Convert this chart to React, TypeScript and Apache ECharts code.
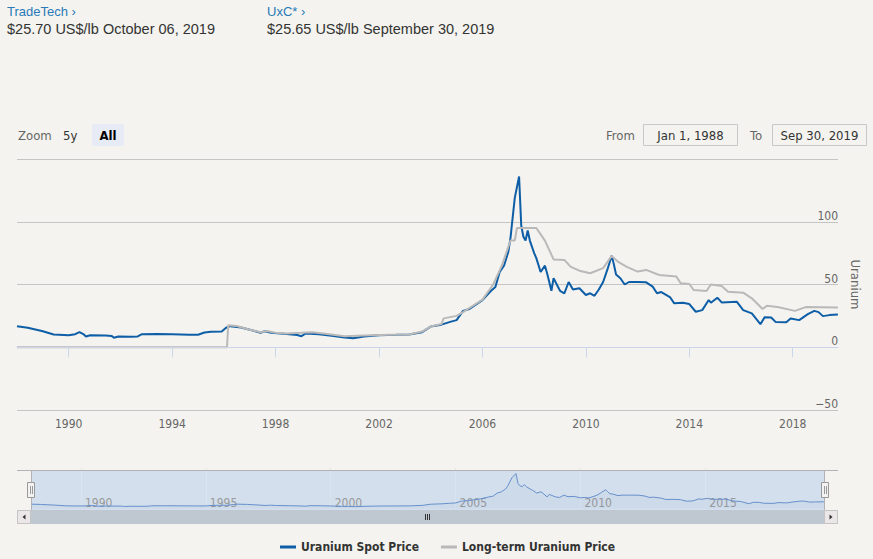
import React, { useEffect, useRef } from "react";
import * as echarts from "echarts";

const spotDates = [
  "1988-01", "1988-06", "1989-01", "1989-06", "1990-01", "1990-04", "1990-06", "1990-08", "1990-09", "1990-11",
  "1991-06", "1991-09", "1991-10", "1991-12", "1992-06", "1992-09", "1992-11", "1993-06", "1994-01", "1994-09",
  "1995-01", "1995-04", "1995-07", "1995-12", "1996-02", "1996-04", "1996-09", "1997-02", "1997-06", "1997-08",
  "1997-11", "1998-06", "1998-11", "1999-01", "1999-03", "1999-09", "2000-03", "2000-09", "2001-01", "2001-06",
  "2002-01", "2002-09", "2003-03", "2003-09", "2004-01", "2004-06", "2004-10", "2005-01", "2005-04", "2005-07",
  "2006-01", "2006-05", "2006-07", "2006-09", "2006-11", "2007-01", "2007-02", "2007-04", "2007-06", "2007-07",
  "2007-08", "2007-09", "2007-10", "2007-11", "2008-01", "2008-02", "2008-04", "2008-06", "2008-07", "2008-09",
  "2008-10", "2009-01", "2009-03", "2009-05", "2009-07", "2009-10", "2010-01", "2010-03", "2010-05", "2010-07",
  "2010-09", "2010-11", "2011-01", "2011-02", "2011-03", "2011-05", "2011-07", "2011-09", "2012-01", "2012-05",
  "2012-08", "2012-10", "2012-12", "2013-04", "2013-06", "2013-10", "2014-01", "2014-04", "2014-07", "2014-10",
  "2014-11", "2015-02", "2015-04", "2015-11", "2016-02", "2016-06", "2016-10", "2016-12", "2017-03", "2017-05",
  "2017-10", "2017-12", "2018-04", "2018-08", "2018-11", "2019-01", "2019-03", "2019-06", "2019-09-30",
];
const spotValues = [
  16.8, 15.6, 12.8, 10.2, 9.6, 10.4, 12.0, 10.2, 8.6, 9.6,
  9.3, 8.9, 7.6, 8.6, 8.4, 8.6, 10.4, 10.5, 10.3, 9.9,
  10.0, 11.8, 12.3, 12.6, 15.5, 16.8, 15.8, 13.5, 11.6, 12.8,
  11.5, 10.6, 9.8, 8.8, 11.0, 10.4, 9.2, 7.8, 7.2, 8.6,
  9.6, 9.9, 10.2, 12.0, 16.5, 18.0, 20.2, 21.6, 29.0, 30.5,
  37.6, 45, 48, 60, 65, 76, 87, 119, 136, 97,
  88, 85, 93, 85, 75, 71, 60, 65, 59, 45,
  55, 45, 43, 52, 46, 47, 41.6, 43, 41, 46,
  52, 62, 73, 66, 58, 55, 50, 52, 52, 51.7,
  48.3, 43, 44, 40, 35, 35.5, 34.4, 28.3, 29.6, 37.6,
  35.5, 39.5, 35.7, 36.3, 29.6, 27, 18.4, 24, 23.7, 20.2,
  20, 22.9, 21.6, 26.4, 29, 28, 24.8, 25.6, 26,
];

const ltDates = [
  "1988-01", "1996-02-15", "1996-03", "1996-07", "1997-01", "1997-06", "1997-09", "1998-01", "1998-06", "1999-01",
  "1999-06", "2000-01", "2000-09", "2001-06", "2002-06", "2003-03", "2003-09", "2004-01", "2004-06", "2004-07",
  "2005-01", "2005-04", "2006-01", "2006-06", "2006-10", "2007-01", "2007-02", "2007-04", "2007-05", "2008-02",
  "2008-06", "2008-10", "2009-03", "2009-06", "2009-10", "2010-03", "2010-09", "2011-01", "2011-04", "2011-08",
  "2012-01", "2012-05", "2012-11", "2013-07", "2013-09", "2014-01", "2014-03", "2014-09", "2014-11", "2015-04",
  "2015-07", "2016-02", "2016-06", "2016-11", "2017-01", "2017-06", "2018-02", "2018-07", "2019-09-30",
];
const ltValues = [
  0, 0, 17.6, 17.0, 14, 12, 13, 11.5, 11, 11.5,
  12.0, 10.5, 8.8, 9.4, 10, 10.2, 12.5, 16.5, 18.5, 23,
  25, 28, 38, 50, 65, 80, 85, 85, 95, 95,
  85, 70, 69.6, 64, 61, 59, 63, 72.8, 68, 64,
  60.3, 61.6, 57.6, 56.3, 51, 50.4, 45.6, 44.8, 50, 48.8,
  44.3, 43.5, 39, 30.5, 33, 32, 29, 32, 31.7,
];

const mainYearTicks = [1990, 1994, 1998, 2002, 2006, 2010, 2014, 2018];
const navYearTicks = [1990, 1995, 2000, 2005, 2010, 2015];
const legendNames = ["Uranium Spot Price", "Long-term Uranium Price"];

function toYear(s: string): number {
  const p = s.split("-").map(Number);
  const y = p[0];
  const m = p[1] || 1;
  const d = p[2] || 1;
  return y + (m - 1) / 12 + (d - 1) / 365;
}

const NARROW = "'Liberation Sans Narrow', 'DejaVu Sans Condensed', sans-serif";
const SANS = "'Liberation Sans', Arial, sans-serif";

export default function App() {
  const ref = useRef<HTMLDivElement>(null);
  useEffect(() => {
    document.body.style.margin = "0";
    if (!ref.current) return;
    const chart = echarts.init(ref.current, undefined, { renderer: "svg" });
    const spot = spotDates.map((d, i) => [toYear(d), spotValues[i]]);
    const lt = ltDates.map((d, i) => [toYear(d), ltValues[i]]);

    const txt = (x: number, y: number, text: string, opts: any = {}) => ({
      type: "text",
      x,
      y,
      z: 20,
      style: {
        text,
        fill: opts.fill || "#333",
        fontSize: opts.fontSize || 13,
        fontFamily: opts.fontFamily || NARROW,
        fontWeight: opts.fontWeight || "normal",
        textAlign: opts.align || "left",
        textVerticalAlign: "middle",
      },
    });

    const option: any = {
      animation: false,
      backgroundColor: "#f4f3ef",
      textStyle: { fontFamily: NARROW },
      grid: [
        { left: 17, right: 35, top: 159, bottom: 149 },
        { left: 31, right: 49, top: 470, height: 40 },
      ],
      xAxis: [
        {
          type: "value",
          gridIndex: 0,
          min: 1988,
          max: 2019.75,
          z: 5,
          axisLine: { show: true, lineStyle: { color: "#ccd6eb", width: 1 } },
          axisTick: { show: true, length: 10, customValues: mainYearTicks, lineStyle: { color: "#ccd6eb" } },
          axisLabel: {
            customValues: mainYearTicks,
            color: "#666",
            fontSize: 12,
            margin: 8,
            formatter: (v: number) => String(Math.round(v)),
          },
          splitLine: { show: false },
        },
        {
          type: "value",
          gridIndex: 1,
          min: 1988,
          max: 2019.75,
          z: 3,
          axisLine: { show: false },
          axisTick: {
            show: true,
            inside: true,
            length: 40,
            customValues: navYearTicks,
            lineStyle: { color: "#dae4ef" },
          },
          axisLabel: {
            customValues: navYearTicks,
            inside: true,
            align: "left",
            color: "#999",
            fontSize: 12,
            margin: 1,
            padding: [0, 0, 0, 4],
            formatter: (v: number) => String(Math.round(v)),
          },
          splitLine: { show: false },
        },
      ],
      yAxis: [
        {
          type: "value",
          gridIndex: 0,
          position: "right",
          min: -50,
          max: 150,
          interval: 50,
          name: "Uranium",
          nameLocation: "middle",
          nameRotate: -90,
          nameGap: 10,
          nameTextStyle: { color: "#666", fontSize: 13 },
          axisLine: { show: false },
          axisTick: { show: false },
          axisLabel: {
            inside: true,
            margin: 0,
            verticalAlign: "bottom",
            color: "#666",
            fontSize: 12,
            formatter: (v: number) => (v === 150 ? "" : v < 0 ? "\u2212" + Math.abs(v) : String(v)),
          },
          splitLine: { show: true, lineStyle: { color: "#c4c4c4", width: 1 } },
        },
        { type: "value", gridIndex: 1, min: -6, max: 150, show: false, splitLine: { show: false } },
      ],
      legend: {
        data: legendNames,
        top: 541,
        left: 280,
        padding: 0,
        icon: "rect",
        itemWidth: 16,
        itemHeight: 3,
        itemGap: 22,
        textStyle: { fontFamily: NARROW, fontWeight: "bold", fontSize: 12, color: "#333" },
      },
      series: [
        {
          name: legendNames[0],
          type: "line",
          xAxisIndex: 0,
          yAxisIndex: 0,
          data: spot,
          showSymbol: false,
          symbol: "none",
          z: 3,
          lineStyle: { color: "#0d5ea6", width: 2 },
          itemStyle: { color: "#0d5ea6" },
        },
        {
          name: legendNames[1],
          type: "line",
          xAxisIndex: 0,
          yAxisIndex: 0,
          data: lt,
          showSymbol: false,
          symbol: "none",
          z: 4,
          lineStyle: { color: "#b9b9b9", width: 2 },
          itemStyle: { color: "#b9b9b9" },
        },
        {
          name: "navigator",
          type: "line",
          xAxisIndex: 1,
          yAxisIndex: 1,
          data: spot,
          showSymbol: false,
          symbol: "none",
          silent: true,
          z: 4,
          lineStyle: { color: "#6690cc", width: 1 },
          areaStyle: { color: "rgba(51,92,173,0.05)" },
        },
      ],
      graphic: [
        // header
        txt(7, 11, "TradeTech \u203a", { fill: "#2a7ab9", fontFamily: SANS, fontSize: 13 }),
        txt(7, 29, "$25.70 US$/lb October 06, 2019", { fontFamily: SANS, fontSize: 14.5 }),
        txt(267, 11, "UxC* \u203a", { fill: "#2a7ab9", fontFamily: SANS, fontSize: 13 }),
        txt(267, 29, "$25.65 US$/lb September 30, 2019", { fontFamily: SANS, fontSize: 14.5 }),
        // range selector
        txt(18, 135, "Zoom", { fill: "#666", fontSize: 13 }),
        txt(63, 135, "5y", { fill: "#333", fontSize: 13 }),
        { type: "rect", z: 10, shape: { x: 92, y: 124, width: 32, height: 22, r: 2 }, style: { fill: "#e6ebf5" } },
        txt(108, 135, "All", { fill: "#000", fontSize: 13, fontWeight: "bold", align: "center" }),
        txt(606, 135, "From", { fill: "#666", fontSize: 13 }),
        { type: "rect", z: 10, shape: { x: 643.5, y: 124.5, width: 94, height: 21 }, style: { fill: "none", stroke: "#c8c8c8", lineWidth: 1 } },
        txt(690.5, 135, "Jan 1, 1988", { fill: "#333", fontSize: 13, align: "center" }),
        txt(750, 135, "To", { fill: "#666", fontSize: 13 }),
        { type: "rect", z: 10, shape: { x: 772.5, y: 124.5, width: 94, height: 21 }, style: { fill: "none", stroke: "#c8c8c8", lineWidth: 1 } },
        txt(819.5, 135, "Sep 30, 2019", { fill: "#333", fontSize: 13, align: "center" }),
        // navigator mask & outline
        { type: "rect", z: 0, shape: { x: 31, y: 470, width: 793, height: 40 }, style: { fill: "#d3dfec" } },
        { type: "polyline", z: 10, shape: { points: [[17, 470.5], [838, 470.5]] }, style: { stroke: "#b2b1b6", lineWidth: 1, fill: "none" } },
        { type: "line", z: 10, shape: { x1: 31.5, y1: 470, x2: 31.5, y2: 510 }, style: { stroke: "#b2b1b6", lineWidth: 1 } },
        { type: "line", z: 10, shape: { x1: 824.5, y1: 470, x2: 824.5, y2: 510 }, style: { stroke: "#b2b1b6", lineWidth: 1 } },
        // handles
        { type: "rect", z: 12, shape: { x: 27.5, y: 482.5, width: 7, height: 15 }, style: { fill: "#f2f2f2", stroke: "#999", lineWidth: 1 } },
        { type: "line", z: 13, shape: { x1: 30.5, y1: 486, x2: 30.5, y2: 494 }, style: { stroke: "#999", lineWidth: 1 } },
        { type: "line", z: 13, shape: { x1: 32.5, y1: 486, x2: 32.5, y2: 494 }, style: { stroke: "#999", lineWidth: 1 } },
        { type: "rect", z: 12, shape: { x: 821.5, y: 482.5, width: 7, height: 15 }, style: { fill: "#f2f2f2", stroke: "#999", lineWidth: 1 } },
        { type: "line", z: 13, shape: { x1: 824.5, y1: 486, x2: 824.5, y2: 494 }, style: { stroke: "#999", lineWidth: 1 } },
        { type: "line", z: 13, shape: { x1: 826.5, y1: 486, x2: 826.5, y2: 494 }, style: { stroke: "#999", lineWidth: 1 } },
        // scrollbar
        { type: "rect", z: 10, shape: { x: 17.5, y: 510.5, width: 820, height: 13 }, style: { fill: "#f2f2f2", stroke: "#cccccc", lineWidth: 1 } },
        { type: "rect", z: 11, shape: { x: 31, y: 510.5, width: 793, height: 13 }, style: { fill: "#bfc8d1", stroke: "#bfc8d1", lineWidth: 1 } },
        { type: "rect", z: 11, shape: { x: 17.5, y: 510.5, width: 13, height: 13 }, style: { fill: "#ebe7e8", stroke: "#c4c4c4", lineWidth: 1 } },
        { type: "polygon", z: 12, shape: { points: [[25.5, 514.5], [22.5, 517], [25.5, 519.5]] }, style: { fill: "#333" } },
        { type: "rect", z: 11, shape: { x: 824.5, y: 510.5, width: 13, height: 13 }, style: { fill: "#ebe7e8", stroke: "#c4c4c4", lineWidth: 1 } },
        { type: "polygon", z: 12, shape: { points: [[829.5, 514.5], [832.5, 517], [829.5, 519.5]] }, style: { fill: "#333" } },
        { type: "line", z: 12, shape: { x1: 425.5, y1: 514, x2: 425.5, y2: 520 }, style: { stroke: "#333", lineWidth: 1 } },
        { type: "line", z: 12, shape: { x1: 427.5, y1: 514, x2: 427.5, y2: 520 }, style: { stroke: "#333", lineWidth: 1 } },
        { type: "line", z: 12, shape: { x1: 429.5, y1: 514, x2: 429.5, y2: 520 }, style: { stroke: "#333", lineWidth: 1 } },
      ],
    };
    chart.setOption(option);
    return () => chart.dispose();
  }, []);
  return <div ref={ref} style={{ width: 873, height: 559 }} />;
}
